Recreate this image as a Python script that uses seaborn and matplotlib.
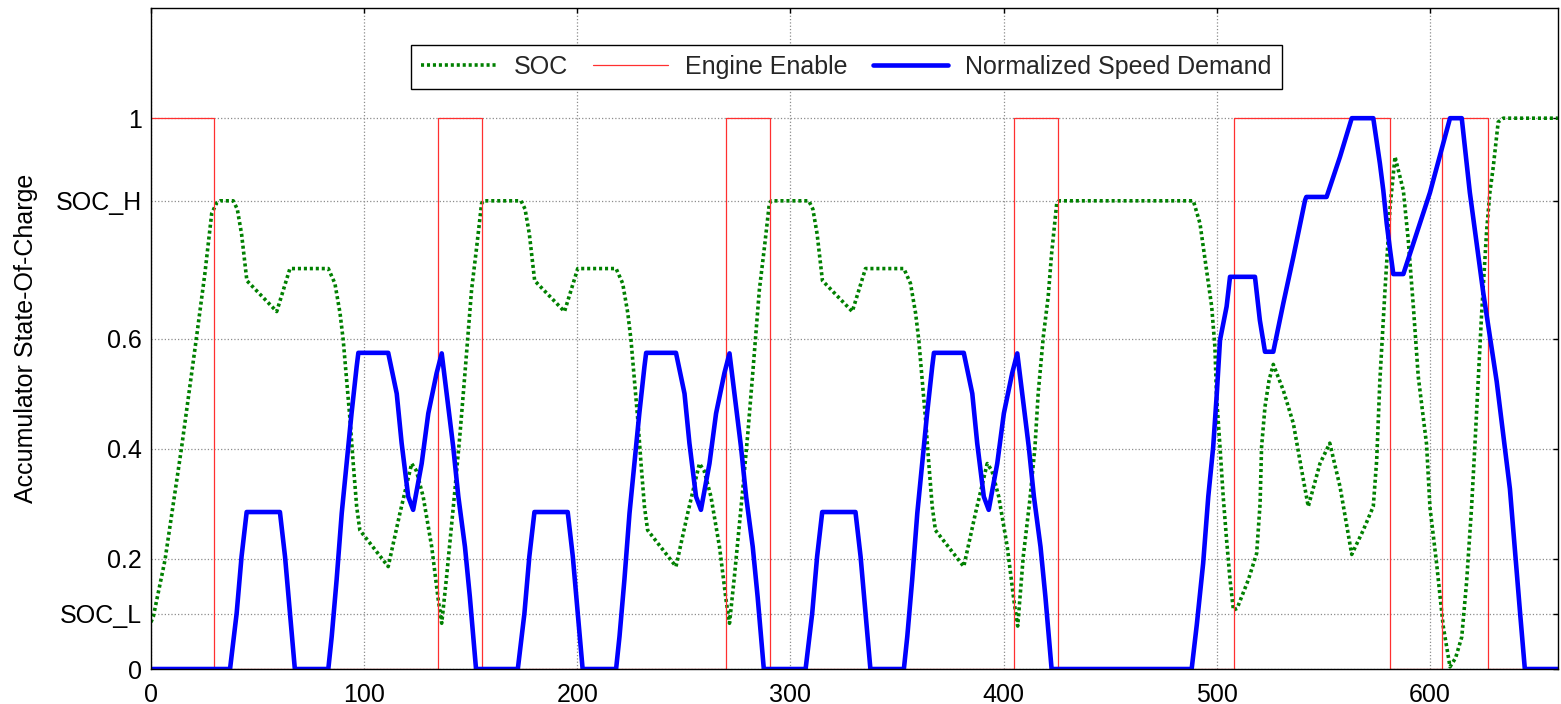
import matplotlib
matplotlib.use("Agg")
import matplotlib.pyplot as plt
import seaborn as sns

# Accumulator state of charge (normalised), sampled at breakpoints of the trace
soc_t = [0, 1.1, 6.6, 14.4, 21.4, 25.3, 28.5, 30.8, 32.5, 38.6, 40.5, 42.5, 44.0, 45.0,
         59.0, 62.1, 65.2, 83.2, 86.3, 88.7, 90.2, 91.8, 93.4, 94.9, 96.5, 98.0, 111.3,
         116.8, 122.3, 124.5, 127.7, 131.7, 134.8, 136.4,
         138.7, 142.6, 145.0, 147.3, 150.4, 152.8, 155.1, 156.0, 173.6, 175.5, 177.5,
         179.0, 180.0, 194.0, 197.1, 200.2, 218.2, 221.3, 223.7, 225.2, 226.8, 228.4,
         229.9, 231.5, 233.0, 246.3, 251.8, 257.3, 259.5, 262.7, 266.7, 269.8, 271.4,
         273.7, 277.6, 280.0, 282.3, 285.4, 287.8, 290.1, 291.0, 308.6, 310.5, 312.5,
         314.0, 315.0, 329.0, 332.1, 335.2, 353.2, 356.3, 358.7, 360.2, 361.8, 363.4,
         364.9, 366.5, 368.0, 381.3, 386.8, 392.3, 394.5, 397.7, 401.7, 404.8, 406.6,
         409.2, 412.3, 414.7, 416.2, 418.6, 420.9, 422.5, 424.9, 426.0, 489.0, 492.1,
         495.2, 497.6, 499.1, 499.9, 501.5, 503.0, 504.6, 506.2, 507.8, 509.5, 514.8,
         518.7, 520.3, 521.0, 522.6, 524.5, 526.5, 531.2, 535.9, 539.8, 542.9, 548.4,
         553.0, 557.8, 563.3, 568.7, 573.4, 575.0, 576.5, 578.9, 581.3, 583.6, 587.5,
         589.8, 592.2, 594.5, 598.4, 600.0, 603.1, 606.2, 609.4, 612.0, 614.9, 617.2,
         619.5, 621.1, 622.7, 624.2, 626.6, 628.1, 629.7, 632.0, 634.4, 660.0]
soc_v = [0.085, 0.095, 0.198, 0.403, 0.603, 0.718, 0.827, 0.846, 0.85, 0.85, 0.835, 0.79,
         0.74, 0.705, 0.649, 0.688, 0.727, 0.727, 0.70, 0.646, 0.597, 0.524, 0.452, 0.373,
         0.295, 0.252, 0.186, 0.283, 0.373, 0.36, 0.313, 0.222, 0.125, 0.083,
         0.168, 0.325, 0.428, 0.537, 0.688, 0.766, 0.845, 0.85, 0.85, 0.835, 0.79,
         0.74, 0.705, 0.649, 0.688, 0.727, 0.727, 0.70, 0.646, 0.597, 0.524, 0.452,
         0.373, 0.295, 0.252, 0.186, 0.283, 0.373, 0.36, 0.313, 0.222, 0.125, 0.083,
         0.168, 0.325, 0.428, 0.537, 0.688, 0.766, 0.845, 0.85, 0.85, 0.835, 0.79,
         0.74, 0.705, 0.649, 0.688, 0.727, 0.727, 0.70, 0.646, 0.597, 0.524, 0.452,
         0.373, 0.295, 0.252, 0.186, 0.283, 0.373, 0.36, 0.313, 0.222, 0.125, 0.078,
         0.204, 0.307, 0.403, 0.5, 0.603, 0.676, 0.754, 0.845, 0.85, 0.85, 0.809,
         0.724, 0.658, 0.585, 0.494, 0.403, 0.313, 0.234, 0.162, 0.107, 0.11, 0.162,
         0.21, 0.30, 0.403, 0.476, 0.524, 0.553, 0.506, 0.446, 0.361, 0.295, 0.373,
         0.41, 0.331, 0.208, 0.252, 0.295, 0.379, 0.524, 0.688, 0.839, 0.93, 0.869,
         0.779, 0.658, 0.531, 0.408, 0.293, 0.192, 0.078, 0.004, 0.02, 0.058, 0.159,
         0.293, 0.408, 0.528, 0.643, 0.797, 0.865, 0.912, 0.993, 1.0, 1.0]

# Engine on/off command (held value until the next switching time)
engine_t = [0, 29.7, 134.8, 155.4, 269.7, 290.4, 405.0, 425.6, 508.2, 581.2, 605.8, 627.3, 660.0]
engine_v = [1, 0, 1, 0, 1, 0, 1, 0, 1, 0, 1, 0, 0]

# Normalised speed demand of the drive cycle
speed_t = [0, 37.1, 40.2, 42.5, 44.9, 60.5, 62.9, 65.2, 67.5, 83.2, 84.8, 87.1, 89.5, 91.8,
           94.1, 96.5, 97.3, 111.3, 115.3, 117.6, 120.7, 123.0, 127.0, 130.1, 134.0, 136.4,
           138.7, 141.8, 144.2, 147.3, 149.6, 152.5,
           172.1, 175.2, 177.5, 179.9, 195.5, 197.9, 200.2, 202.5, 218.2, 219.8, 222.1,
           224.5, 226.8, 229.1, 231.5, 232.3, 246.3, 250.3, 252.6, 255.7, 258.0, 262.0,
           265.1, 269.0, 271.4, 273.7, 276.8, 279.2, 282.3, 284.6, 287.5,
           307.1, 310.2, 312.5, 314.9, 330.5, 332.9, 335.2, 337.5, 353.2, 354.8, 357.1,
           359.5, 361.8, 364.1, 366.5, 367.3, 381.3, 385.3, 387.6, 390.7, 393.0, 397.0,
           400.1, 404.0, 406.4, 408.7, 411.8, 414.2, 417.3, 419.6, 422.5,
           488.2, 490.6, 493.6, 496.0, 498.3, 499.9, 501.5, 504.6, 506.2, 517.9, 520.2,
           522.6, 526.5, 531.2, 535.9, 541.4, 542.0, 551.5, 557.8, 563.3, 573.4, 576.5,
           578.1, 579.7, 581.3, 582.8, 587.5, 600.0, 609.4, 614.9, 618.7, 625.0, 631.3,
           637.5, 642.2, 644.5, 660.0]
speed_v = [0, 0, 0.101, 0.204, 0.285, 0.285, 0.204, 0.101, 0, 0, 0.059, 0.162, 0.283, 0.373,
           0.464, 0.549, 0.574, 0.574, 0.5, 0.41, 0.313, 0.289, 0.373, 0.464, 0.537, 0.573,
           0.5, 0.403, 0.313, 0.222, 0.131, 0,
           0, 0.101, 0.204, 0.285, 0.285, 0.204, 0.101, 0, 0, 0.059, 0.162,
           0.283, 0.373, 0.464, 0.549, 0.574, 0.574, 0.5, 0.41, 0.313, 0.289, 0.373,
           0.464, 0.537, 0.573, 0.5, 0.403, 0.313, 0.222, 0.131, 0,
           0, 0.101, 0.204, 0.285, 0.285, 0.204, 0.101, 0, 0, 0.059, 0.162,
           0.283, 0.373, 0.464, 0.549, 0.574, 0.574, 0.5, 0.41, 0.313, 0.289, 0.373,
           0.464, 0.537, 0.573, 0.5, 0.403, 0.313, 0.222, 0.131, 0,
           0, 0.08, 0.192, 0.313, 0.403, 0.494, 0.597, 0.658, 0.712, 0.712, 0.633,
           0.576, 0.576, 0.664, 0.748, 0.851, 0.857, 0.857, 0.93, 1, 1, 0.918,
           0.869, 0.809, 0.76, 0.717, 0.717, 0.865, 1, 1, 0.865, 0.683, 0.522,
           0.327, 0.105, 0, 0]

series_labels = ["SOC", "Engine Enable", "Normalized Speed Demand"]
x_ticks = [0, 100, 200, 300, 400, 500, 600]
y_ticks = [0, 0.1, 0.2, 0.4, 0.6, 0.85, 1]
y_tick_labels = ["0", "SOC_L", "0.2", "0.4", "0.6", "SOC_H", "1"]

sns.set_theme(style="white")
plt.rcParams["font.family"] = ["Liberation Sans", "DejaVu Sans"]

fig = plt.figure(figsize=(15.61, 7.04), dpi=100)
ax = fig.add_axes([0.0967, 0.0497, 0.9013, 0.9389])

sns.lineplot(x=soc_t, y=soc_v, ax=ax, color="#008000", lw=2.6,
             linestyle=(0, (0.85, 0.8)), dash_capstyle="butt",
             estimator=None, sort=False, label=series_labels[0], legend=False)
sns.lineplot(x=engine_t, y=engine_v, ax=ax, color="#ff3030", lw=0.9,
             drawstyle="steps-post", estimator=None, sort=False,
             label=series_labels[1], legend=False)
sns.lineplot(x=speed_t, y=speed_v, ax=ax, color="#0000ff", lw=3.3,
             estimator=None, sort=False, label=series_labels[2], legend=False)

ax.set_xlim(0, 660)
ax.set_ylim(0, 1.2)
ax.set_xticks(x_ticks)
ax.set_xticklabels([str(v) for v in x_ticks])
ax.set_yticks(y_ticks)
ax.set_yticklabels(y_tick_labels)

ax.grid(True, color="#8c8c8c", linestyle=":", linewidth=0.9)
ax.set_axisbelow(True)

for side in ["left", "right", "top", "bottom"]:
    ax.spines[side].set_visible(True)
    ax.spines[side].set_color("black")
    ax.spines[side].set_linewidth(1.0)

ax.tick_params(axis="both", direction="in", length=3.6, width=1.0, color="black",
               top=True, right=True, labelsize=18, labelcolor="black")
ax.tick_params(axis="x", pad=10)
ax.tick_params(axis="y", pad=6.7)

ax.set_xlabel("")
ax.set_ylabel("Accumulator State-Of-Charge", fontsize=18, color="black")
ax.yaxis.set_label_coords(-0.08, 0.5)

leg = ax.legend(handles=ax.lines[:3], labels=series_labels, loc="upper center",
                bbox_to_anchor=(0.4943, 0.944), ncol=3, fontsize=18, frameon=True,
                fancybox=False, framealpha=1, edgecolor="black", handlelength=3,
                handletextpad=0.7, columnspacing=1.0, borderpad=0.4, borderaxespad=0)
leg.get_frame().set_linewidth(1.0)

fig.savefig("out.png", dpi=100)
